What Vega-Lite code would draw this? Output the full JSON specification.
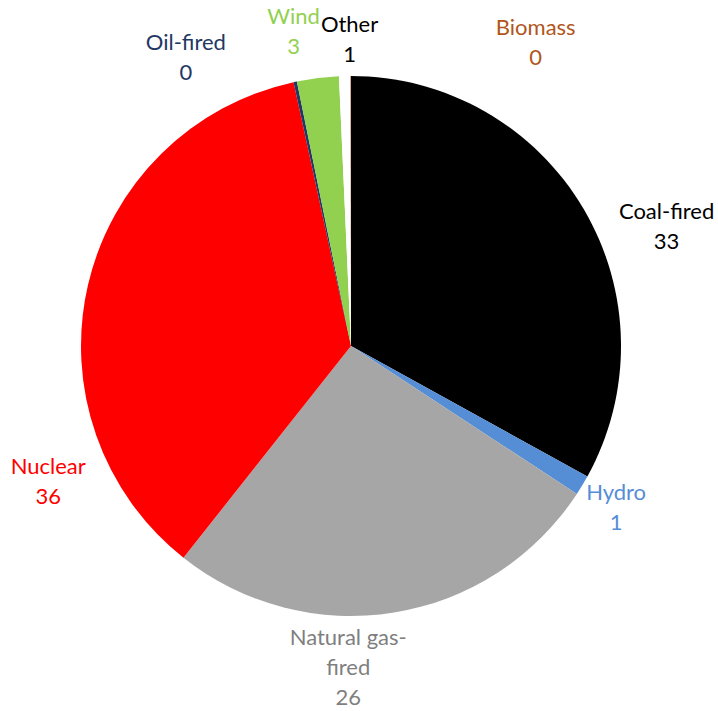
{
  "$schema": "https://vega.github.io/schema/vega-lite/v6.json",
  "width": 702,
  "height": 692,
  "autosize": {"type": "none"},
  "padding": {"left": 0, "top": 0, "right": 16, "bottom": 19},
  "background": "white",
  "config": {
    "view": {"stroke": null},
    "text": {"font": "Lato", "fontSize": 22, "lineHeight": 30, "align": "center", "baseline": "middle"}
  },
  "data": {
    "values": [
      {"source": "Coal-fired", "share": 33.0, "rank": 1},
      {"source": "Hydro", "share": 1.2, "rank": 2},
      {"source": "Natural gas-fired", "share": 26.4, "rank": 3},
      {"source": "Nuclear", "share": 35.9, "rank": 4},
      {"source": "Oil-fired", "share": 0.2, "rank": 5},
      {"source": "Wind", "share": 2.5, "rank": 6},
      {"source": "Other", "share": 0.68, "rank": 7},
      {"source": "Biomass", "share": 0.03, "rank": 8}
    ]
  },
  "transform": [
    {"stack": "share", "groupby": [], "sort": [{"field": "rank", "order": "ascending"}], "as": ["s0", "s1"]},
    {"calculate": "(datum.s0 + datum.s1) / 2", "as": "mid"},
    {"calculate": "datum.source === 'Natural gas-fired' ? ['Natural gas-', 'fired', format(datum.share, '.0f')] : [datum.source, format(datum.share, '.0f')]", "as": "label"}
  ],
  "layer": [
    {
      "mark": {"type": "arc", "outerRadius": 270},
      "encoding": {
        "theta": {"field": "s0", "type": "quantitative", "scale": {"domain": [0, 99.91], "zero": true, "nice": false}},
        "theta2": {"field": "s1"},
        "color": {
          "field": "source",
          "type": "nominal",
          "scale": {
            "domain": ["Coal-fired", "Hydro", "Natural gas-fired", "Nuclear", "Oil-fired", "Wind", "Other", "Biomass"],
            "range": ["#000000", "#558ED5", "#A6A6A6", "#FF0000", "#1F3864", "#92D050", "#FFFFFF", "#B0561C"]
          },
          "legend": null
        }
      }
    },
    {
      "transform": [{"filter": "datum.source === 'Coal-fired'"}],
      "mark": {"type": "text", "radius": 320, "dx": 40, "dy": 29, "color": "#000000"},
      "encoding": {"theta": {"field": "mid", "type": "quantitative"}, "text": {"field": "label"}}
    },
    {
      "transform": [{"filter": "datum.source === 'Hydro'"}],
      "mark": {"type": "text", "radius": 320, "dx": -9, "dy": -18, "color": "#558ED5"},
      "encoding": {"theta": {"field": "mid", "type": "quantitative"}, "text": {"field": "label"}}
    },
    {
      "transform": [{"filter": "datum.source === 'Natural gas-fired'"}],
      "mark": {"type": "text", "radius": 320, "dx": -54, "dy": -24, "color": "#7F7F7F"},
      "encoding": {"theta": {"field": "mid", "type": "quantitative"}, "text": {"field": "label"}}
    },
    {
      "transform": [{"filter": "datum.source === 'Nuclear'"}],
      "mark": {"type": "text", "radius": 320, "dx": 9, "dy": 193, "color": "#FF0000"},
      "encoding": {"theta": {"field": "mid", "type": "quantitative"}, "text": {"field": "label"}}
    },
    {
      "transform": [{"filter": "datum.source === 'Oil-fired'"}],
      "mark": {"type": "text", "radius": 320, "dx": -99, "dy": 10, "color": "#1F3864"},
      "encoding": {"theta": {"field": "mid", "type": "quantitative"}, "text": {"field": "label"}}
    },
    {
      "transform": [{"filter": "datum.source === 'Wind'"}],
      "mark": {"type": "text", "radius": 320, "dx": -18, "dy": -11, "color": "#92D050"},
      "encoding": {"theta": {"field": "mid", "type": "quantitative"}, "text": {"field": "label"}}
    },
    {
      "transform": [{"filter": "datum.source === 'Other'"}],
      "mark": {"type": "text", "radius": 320, "dx": 6, "dy": -1, "color": "#000000"},
      "encoding": {"theta": {"field": "mid", "type": "quantitative"}, "text": {"field": "label"}}
    },
    {
      "transform": [{"filter": "datum.source === 'Biomass'"}],
      "mark": {"type": "text", "radius": 320, "dx": 185, "dy": 2, "color": "#B0561C"},
      "encoding": {"theta": {"field": "mid", "type": "quantitative"}, "text": {"field": "label"}}
    }
  ]
}
